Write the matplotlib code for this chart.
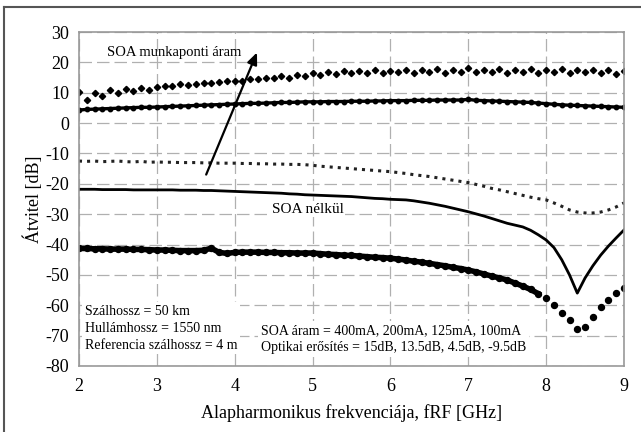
import matplotlib
matplotlib.use('Agg')
import matplotlib.pyplot as plt
import numpy as np

plt.rcParams['font.family'] = ['Liberation Serif', 'DejaVu Serif']
plt.rcParams['axes.unicode_minus'] = False

# frequency grid [GHz], 0.1 GHz steps from 2 to 9
freq = np.round(np.arange(2.0, 9.01, 0.1), 2)

# SOA 400 mA (diamonds)
soa_400 = [10.2, 7.5, 9.8, 9.0, 10.8, 10.0, 11.2, 10.5, 11.6, 11.0,
           12.0, 12.2, 12.3, 12.8, 12.6, 13.0, 13.2, 13.3, 13.6, 13.8,
           14.0, 14.0, 14.6, 14.4, 15.0, 14.8, 15.5, 15.0, 15.8, 15.4,
           16.5, 16.0, 16.8, 16.2, 17.2, 16.4, 17.0, 16.6, 17.4, 16.5,
           17.2, 16.8, 17.6, 16.6, 17.4, 16.8, 17.8, 16.5, 17.5, 16.9,
           18.2, 16.8, 17.6, 16.7, 17.8, 16.6, 17.4, 16.9, 17.7, 16.6,
           17.5, 16.8, 17.9, 16.5, 17.4, 16.7, 17.6, 16.4, 17.5, 16.2,
           17.2]

# SOA 200 mA
soa_200 = [4.3, 4.5, 4.6, 4.7, 4.8, 4.9, 5.0, 5.1, 5.2, 5.2,
           5.3, 5.4, 5.5, 5.6, 5.7, 5.8, 5.9, 6.0, 6.1, 6.2,
           6.3, 6.4, 6.5, 6.5, 6.6, 6.7, 6.8, 6.8, 6.9, 7.0,
           7.0, 7.0, 7.1, 7.1, 7.1, 7.2, 7.2, 7.2, 7.3, 7.3,
           7.4, 7.4, 7.4, 7.5, 7.5, 7.5, 7.6, 7.6, 7.6, 7.6,
           7.8, 7.5, 7.4, 7.3, 7.2, 7.1, 7.0, 6.9, 6.8, 6.6,
           6.4, 6.2, 6.0, 5.9, 5.8, 5.7, 5.6, 5.5, 5.4, 5.3,
           5.2]

# SOA 125 mA
soa_125 = [-12.5, -12.6, -12.5, -12.7, -12.6, -12.5, -12.7, -12.8, -12.6, -12.9,
           -12.8, -12.9, -12.9, -13.0, -13.0, -13.0, -13.1, -13.1, -13.2, -13.2,
           -13.2, -13.3, -13.3, -13.4, -13.4, -13.5, -13.5, -13.6, -13.6, -13.7,
           -13.9, -14.2, -14.4, -14.6, -14.8, -15.0, -15.2, -15.4, -15.6, -15.8,
           -16.0, -16.3, -16.6, -17.0, -17.3, -17.6, -18.0, -18.4, -18.8, -19.2,
           -19.6, -20.2, -20.8, -21.5, -22.0, -22.6, -23.2, -23.8, -24.4, -24.9,
           -25.3, -26.3, -27.4, -28.6, -29.3, -29.6, -29.6, -29.3, -28.6, -27.6,
           -26.3]

# without SOA
no_soa = [-21.8, -21.8, -21.8, -21.9, -21.9, -21.9, -21.9, -22.0, -22.0, -22.0,
          -22.0, -22.0, -22.0, -22.1, -22.1, -22.1, -22.2, -22.2, -22.3, -22.4,
          -22.5, -22.6, -22.7, -22.8, -22.9, -23.0, -23.1, -23.3, -23.4, -23.6,
          -23.7, -23.8, -23.9, -24.0, -24.1, -24.2, -24.4, -24.6, -24.8, -24.9,
          -25.1, -25.2, -25.3, -25.6, -26.0, -26.4, -26.9, -27.4, -28.0, -28.6,
          -29.2, -29.9, -30.6, -31.4, -32.2, -33.0, -33.6, -34.2, -35.3, -36.8,
          -38.5, -41.0, -45.0, -50.0, -56.0, -51.0, -47.0, -43.5, -40.5, -37.8,
          -35.2]

# SOA 100 mA
soa_100 = [-41.3, -41.3, -41.4, -41.4, -41.5, -41.5, -41.5, -41.6, -41.6, -41.7,
           -41.8, -41.8, -41.9, -42.0, -42.0, -42.0, -41.9, -41.2, -42.6, -42.9,
           -42.6, -42.5, -42.5, -42.5, -42.6, -42.6, -42.7, -42.7, -42.8, -42.8,
           -42.8, -43.0, -43.2, -43.3, -43.5, -43.6, -43.8, -44.0, -44.2, -44.3,
           -44.5, -44.8, -45.1, -45.5, -45.8, -46.2, -46.6, -47.0, -47.5, -47.9,
           -48.4, -49.0, -49.7, -50.4, -51.0, -51.7, -52.7, -53.7, -54.8, -56.2,
           -57.6, -60.0, -62.6, -65.0, -67.8, -67.2, -64.0, -60.6, -58.3, -56.0,
           -54.3]

fig = plt.figure(figsize=(6.41, 4.32), dpi=100)
ax = fig.add_axes([0.1232, 0.1528, 0.8503, 0.7731])

# frame around the picture (top and left only)
fig.add_artist(plt.Line2D([4/641, 1], [1-7/432, 1-7/432], color='#555555', lw=1.5))
fig.add_artist(plt.Line2D([4/641, 4/641], [0, 1-7/432], color='#555555', lw=1.5))

ax.plot(freq, soa_400, ls='none', marker='D', ms=3.2, color='black')
ax.plot(freq, soa_200, ls='-', lw=2.4, marker='o', ms=3.2, color='black')
ax.plot(freq, soa_125, ls=':', lw=2.2, color='#222222')
ax.plot(freq, no_soa, ls='-', lw=2, color='black')
# dense part of the 100 mA trace looks like a thick band, the dip shows separate dots
flat = freq <= 7.9
ax.plot(freq[flat], np.array(soa_100)[flat], ls='-', lw=4, color='black')
ax.plot(freq, soa_100, ls='none', marker='o', ms=4.3, color='black')

ax.set_xlim(2, 9)
ax.set_ylim(-80, 30)
ax.set_xticks(range(2, 10))
ax.set_yticks(range(-80, 31, 10))
ax.tick_params(length=0, labelsize=13)
ax.tick_params(axis='x', pad=9)
ax.tick_params(axis='y', pad=7)
ax.grid(True, color='#b0b0b0', ls=(0, (10, 4)), lw=0.9)
for s in ax.spines.values():
    s.set_color('#999999')
    s.set_linewidth(1.2)

ax.set_xlabel('Alapharmonikus frekvenciája, fRF [GHz]', fontsize=13, labelpad=6)
ax.set_ylabel('Átvitel [dB]', fontsize=13, labelpad=2)

ax.annotate('', xy=(4.30, 24.1), xytext=(3.62, -17.8),
            arrowprops=dict(arrowstyle='-|>,head_length=0.7,head_width=0.3', color='black', lw=1.6))
ax.text(2.36, 23.1, 'SOA munkaponti áram', fontsize=10.5, va='center', ha='left')
ax.text(4.94, -28.3, 'SOA nélkül', fontsize=11, va='center', ha='center',
        bbox=dict(facecolor='white', edgecolor='none', pad=1))

ax.text(2.08, -67.5, 'Szálhossz = 50 km\nHullámhossz = 1550 nm\nReferencia szálhossz = 4 m',
        fontsize=10, va='center', ha='left', linespacing=1.4,
        bbox=dict(facecolor='white', edgecolor='none', pad=2))
ax.text(4.34, -71.2, 'SOA áram = 400mA, 200mA, 125mA, 100mA\nOptikai erősítés = 15dB, 13.5dB, 4.5dB, -9.5dB',
        fontsize=10, va='center', ha='left', linespacing=1.4,
        bbox=dict(facecolor='white', edgecolor='none', pad=2))

fig.savefig('out.png', dpi=100)
